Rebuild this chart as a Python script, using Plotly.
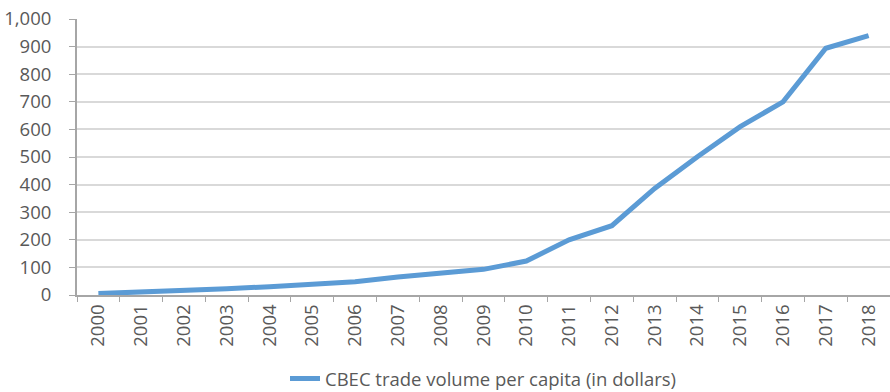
import plotly.graph_objects as go

years = [str(y) for y in range(2000, 2019)]
per_capita = [5, 10, 16, 23, 30, 40, 48, 65, 78, 93, 123, 200, 251, 386, 501, 610, 700, 894, 940]
y_ticks = [0, 100, 200, 300, 400, 500, 600, 700, 800, 900, 1000]
y_labels = ["0", "100", "200", "300", "400", "500", "600", "700", "800", "900", "1,000"]

FONT = "Open Sans"
TEXT = "#595959"
SIZE = 18.5

fig = go.Figure()
fig.add_trace(go.Scatter(
    x=years, y=per_capita, mode="lines",
    name="CBEC trade volume per capita (in dollars)",
    line=dict(color="#5B9BD5", width=5),
))

fig.update_layout(
    width=890, height=392,
    margin=dict(l=77, r=0, t=19, b=97, autoexpand=False),
    paper_bgcolor="white", plot_bgcolor="white",
    font=dict(family=FONT, size=SIZE, color=TEXT),
    showlegend=True,
    legend=dict(orientation="h", x=0.5, xanchor="center", y=-0.235, yanchor="top",
                font=dict(family=FONT, size=SIZE, color=TEXT)),
    xaxis=dict(
        type="category", tickangle=-90, tickson="boundaries",
        ticks="outside", ticklen=5, tickcolor="#A6A6A6",
        showline=True, linecolor="#A6A6A6", linewidth=2,
        showgrid=False, tickfont=dict(size=SIZE, color=TEXT),
        range=[-0.5, 18.5], automargin=False,
    ),
    yaxis=dict(
        range=[0, 1000], tickvals=y_ticks, ticktext=y_labels,
        ticks="outside", ticklen=6, tickcolor="#A6A6A6",
        showline=True, linecolor="#A6A6A6", linewidth=2,
        gridcolor="#D9D9D9", gridwidth=1.5, zeroline=False, automargin=False,
        ticklabelstandoff=14, tickfont=dict(size=SIZE, color=TEXT),
    ),
)

fig.write_html("out.html")
